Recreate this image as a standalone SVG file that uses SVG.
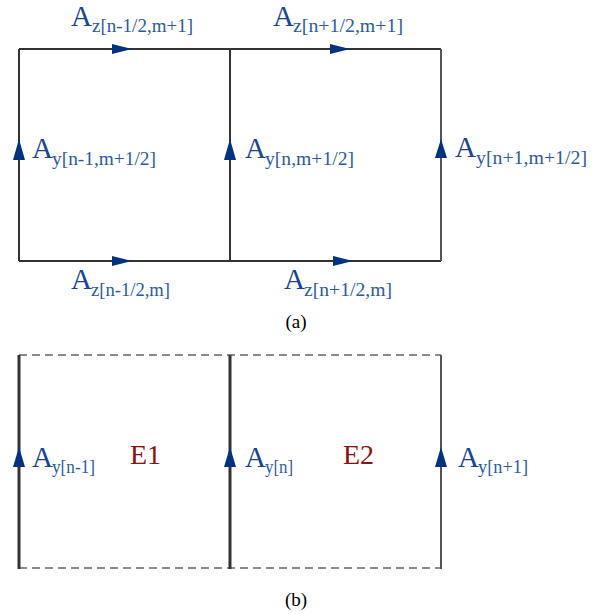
<svg xmlns="http://www.w3.org/2000/svg" width="606" height="614" viewBox="0 0 606 614">
<style>
.ln{stroke:#333;stroke-width:2;fill:none}
.lnb{stroke:#333;stroke-width:3;fill:none}
.lnr{stroke:#555;stroke-width:2;fill:none}
.ds{stroke:#8a8a8a;stroke-width:2;stroke-dasharray:8,5;fill:none}
.ar{fill:#00337f}
text{font-family:'Liberation Serif','Times New Roman',Times,serif}
.A{font-size:29px;fill:#1a4590}
.s{font-size:18px;fill:#2c5aa0}
.E{font-size:28px;fill:#8b1010}
.cap{font-size:19px;fill:#000;text-anchor:middle}
</style>
<g id="connectors">
<path class="ln" d="M19,49 H441"/>
<path class="ln" d="M19,261 H441"/>
<path class="ln" d="M19,49 V261"/>
<path class="ln" d="M230,49 V261"/>
<path class="lnr" d="M441,49 V261"/>
<polygon class="ar" points="112,44 132,49 112,54"/>
<polygon class="ar" points="330,44 350,49 330,54"/>
<polygon class="ar" points="112,256 132,261 112,266"/>
<polygon class="ar" points="333,256 353,261 333,266"/>
<polygon class="ar" points="19,139 13,160 25,160"/>
<polygon class="ar" points="230,139 224,160 236,160"/>
<polygon class="ar" points="441,139 435,158 447,158"/>
<path class="ds" d="M19,355 H441"/>
<path class="ds" d="M19,568 H441"/>
<path class="lnb" d="M19,355 V569"/>
<path class="lnb" d="M230,355 V569"/>
<path class="lnr" d="M441,355 V569"/>
<polygon class="ar" points="19,447 13,467 25,467"/>
<polygon class="ar" points="230,447 224,467 236,467"/>
<polygon class="ar" points="441,447 435,467 447,467"/>
</g>
<g id="label-az-top-left"><text class="A" x="71" y="26">A</text><text class="s" x="92" y="32" textLength="101" lengthAdjust="spacingAndGlyphs">z[n-1/2,m+1]</text></g>
<g id="label-az-top-right"><text class="A" x="273" y="26">A</text><text class="s" x="293" y="32" textLength="110" lengthAdjust="spacingAndGlyphs">z[n+1/2,m+1]</text></g>
<g id="label-ay-left"><text class="A" x="32" y="158">A</text><text class="s" x="52" y="165" textLength="104" lengthAdjust="spacingAndGlyphs">y[n-1,m+1/2]</text></g>
<g id="label-ay-mid"><text class="A" x="245" y="158">A</text><text class="s" x="265" y="165" textLength="89" lengthAdjust="spacingAndGlyphs">y[n,m+1/2]</text></g>
<g id="label-ay-right"><text class="A" x="455" y="157">A</text><text class="s" x="476" y="164" textLength="111" lengthAdjust="spacingAndGlyphs">y[n+1,m+1/2]</text></g>
<g id="label-az-bot-left"><text class="A" x="71" y="289">A</text><text class="s" x="91" y="296" textLength="79" lengthAdjust="spacingAndGlyphs">z[n-1/2,m]</text></g>
<g id="label-az-bot-right"><text class="A" x="284" y="289">A</text><text class="s" x="304" y="296" textLength="88" lengthAdjust="spacingAndGlyphs">z[n+1/2,m]</text></g>
<text class="cap" x="296" y="328">(a)</text>
<g id="label-ayb-left"><text class="A" x="32" y="467">A</text><text class="s" x="52" y="473" textLength="43" lengthAdjust="spacingAndGlyphs">y[n-1]</text></g>
<g id="label-ayb-mid"><text class="A" x="245" y="467">A</text><text class="s" x="265" y="473" textLength="28" lengthAdjust="spacingAndGlyphs">y[n]</text></g>
<g id="label-ayb-right"><text class="A" x="458" y="467">A</text><text class="s" x="478" y="473" textLength="50" lengthAdjust="spacingAndGlyphs">y[n+1]</text></g>
<g id="node-E1"><text class="E" x="130" y="464">E1</text></g>
<g id="node-E2"><text class="E" x="343" y="464">E2</text></g>
<text class="cap" x="296" y="606">(b)</text>
</svg>
